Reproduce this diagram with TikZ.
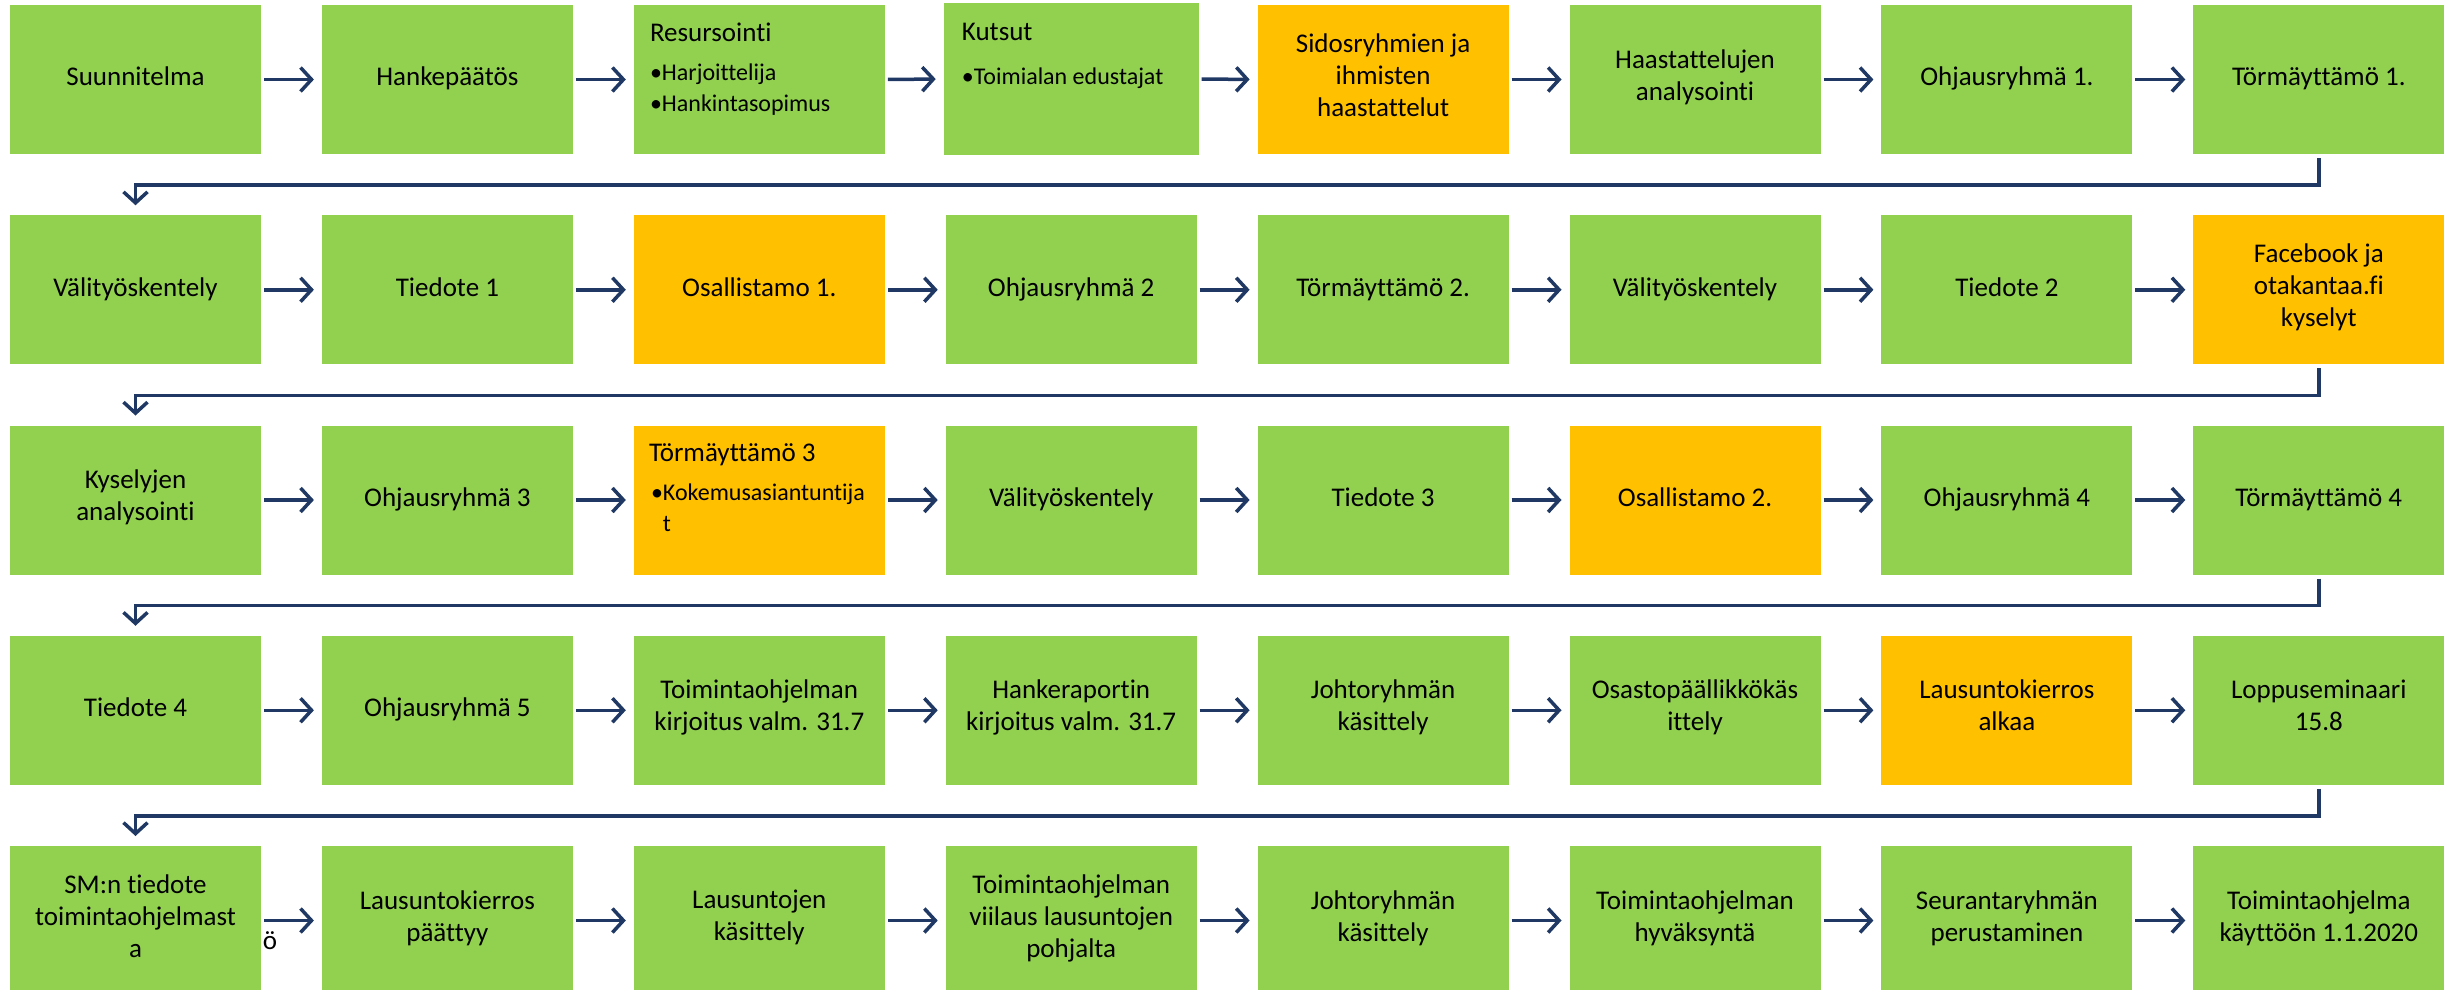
\documentclass[tikz,border=0pt]{standalone}
\usepackage{fontspec}
\setmainfont{Carlito}[Ligatures={NoCommon}]
\usetikzlibrary{arrows.meta}
\definecolor{grn}{HTML}{92D050}
\definecolor{org}{HTML}{FFC000}
\definecolor{nav}{RGB}{31,56,100}
\begin{document}
\begin{tikzpicture}[x=1pt,y=-1pt,
  box/.style={minimum width=251pt, minimum height=149pt, inner sep=0pt, outer sep=0pt,
    align=center, font=\fontsize{27}{32}\selectfont,
    execute at begin node=\strut, execute at end node=\strut},
  g/.style={box, fill=grn},
  o/.style={box, fill=org},
  ttl/.style={anchor=north west, inner sep=0pt, align=left, font=\fontsize{27}{32}\selectfont,
    execute at begin node=\strut},
  bul/.style={anchor=north west, inner sep=0pt, align=left, font=\fontsize{24}{31}\selectfont,
    execute at begin node=\strut, execute at end node=\strut},
  arr/.style={draw=nav, line width=3.5pt, -{Straight Barb[length=11pt,width=24pt]},
    shorten <=3pt, shorten >=8pt},
  wrap/.style={draw=nav, line width=3.5pt, -{Straight Barb[length=11pt,width=24pt]},
    shorten <=4pt, shorten >=10pt}]
\useasboundingbox (0,0) rectangle (2445,990);
% Row 1
\node[g] (a1) at (135.5,79.5) {Suunnitelma};
\node[g] (a2) at (447.4,79.5) {Hankepäätös};
\node[g] (a3) at (759.3,79.5) {};
\node[g, minimum width=255pt, minimum height=152pt] (a4) at (1071.2,79) {};
\node[o] (a5) at (1383.1,79.5) {Sidosryhmien ja\\ihmisten\\haastattelut};
\node[g] (a6) at (1695.0,79.5) {Haastattelujen\\analysointi};
\node[g] (a7) at (2006.9,79.5) {Ohjausryhmä 1.};
\node[g] (a8) at (2318.8,79.5) {Törmäyttämö 1.};
\node[ttl] (a3t) at ([shift={(16,13.5)}]a3.north west) {Resursointi};
\node[bul] (a3b) at ([shift={(16,58.5)}]a3.north west) {•Harjoittelija\\•Hankintasopimus};
\node[ttl] (a4t) at ([shift={(18,15)}]a4.north west) {Kutsut};
\node[bul] (a4b) at ([shift={(18,60)}]a4.north west) {•Toimialan edustajat};
% Row 2
\node[g] (b1) at (135.5,289.75) {Välityöskentely};
\node[g] (b2) at (447.4,289.75) {Tiedote 1};
\node[o] (b3) at (759.3,289.75) {Osallistamo 1.};
\node[g] (b4) at (1071.2,289.75) {Ohjausryhmä 2};
\node[g] (b5) at (1383.1,289.75) {Törmäyttämö 2.};
\node[g] (b6) at (1695.0,289.75) {Välityöskentely};
\node[g] (b7) at (2006.9,289.75) {Tiedote 2};
\node[o] (b8) at (2318.8,289.75) {Facebook ja\\otakantaa.fi\\kyselyt};
% Row 3
\node[g] (c1) at (135.5,500) {Kyselyjen\\analysointi};
\node[g] (c2) at (447.4,500) {Ohjausryhmä 3};
\node[o] (c3) at (759.3,500) {};
\node[g] (c4) at (1071.2,500) {Välityöskentely};
\node[g] (c5) at (1383.1,500) {Tiedote 3};
\node[o] (c6) at (1695.0,500) {Osallistamo 2.};
\node[g] (c7) at (2006.9,500) {Ohjausryhmä 4};
\node[g] (c8) at (2318.8,500) {Törmäyttämö 4};
\node[ttl] (c3t) at ([shift={(15,13.5)}]c3.north west) {Törmäyttämö 3};
\node[bul] (c3b) at ([shift={(17,58)}]c3.north west) {•Kokemusasiantuntija\\\hphantom{•}t};
% Row 4
\node[g] (d1) at (135.5,710.25) {Tiedote 4};
\node[g] (d2) at (447.4,710.25) {Ohjausryhmä 5};
\node[g] (d3) at (759.3,710.25) {Toimintaohjelman\\kirjoitus valm. 31.7};
\node[g] (d4) at (1071.2,710.25) {Hankeraportin\\kirjoitus valm. 31.7};
\node[g] (d5) at (1383.1,710.25) {Johtoryhmän\\käsittely};
\node[g] (d6) at (1695.0,710.25) {Osastopäällikkökäs\\ittely};
\node[o] (d7) at (2006.9,710.25) {Lausuntokierros\\alkaa};
\node[g] (d8) at (2318.8,710.25) {Loppuseminaari\\15.8};
% Row 5
\node[g] (e1) at (135.5,920.5) {SM:n tiedote\\toimintaohjelmast\\a};
\node[g] (e2) at (447.4,920.5) {Lausuntokierros\\päättyy};
\node[g] (e3) at (759.3,920.5) {Lausuntojen\\käsittely};
\node[g] (e4) at (1071.2,920.5) {Toimintaohjelman\\viilaus lausuntojen\\pohjalta};
\node[g] (e5) at (1383.1,920.5) {Johtoryhmän\\käsittely};
\node[g] (e6) at (1695.0,920.5) {Toimintaohjelman\\hyväksyntä};
\node[g] (e7) at (2006.9,920.5) {Seurantaryhmän\\perustaminen};
\node[g] (e8) at (2318.8,920.5) {Toimintaohjelma\\käyttöön 1.1.2020};
\node[anchor=base, inner sep=0pt, font=\fontsize{27}{32}\selectfont] (stray) at (270,949) {ö};
% Arrows within rows
\foreach \r in {a,b,c,d,e}{
  \foreach \i [evaluate=\i as \j using int(\i+1)] in {1,...,7}{
    \draw[arr] (\r\i.east) -- (\r\j.west);
  }
}
% Row wraps
\draw[wrap] (a8.south) -- ++(0,31) -| (b1.north);
\draw[wrap] (b8.south) -- ++(0,31) -| (c1.north);
\draw[wrap] (c8.south) -- ++(0,31) -| (d1.north);
\draw[wrap] (d8.south) -- ++(0,31) -| (e1.north);
\end{tikzpicture}
\end{document}
